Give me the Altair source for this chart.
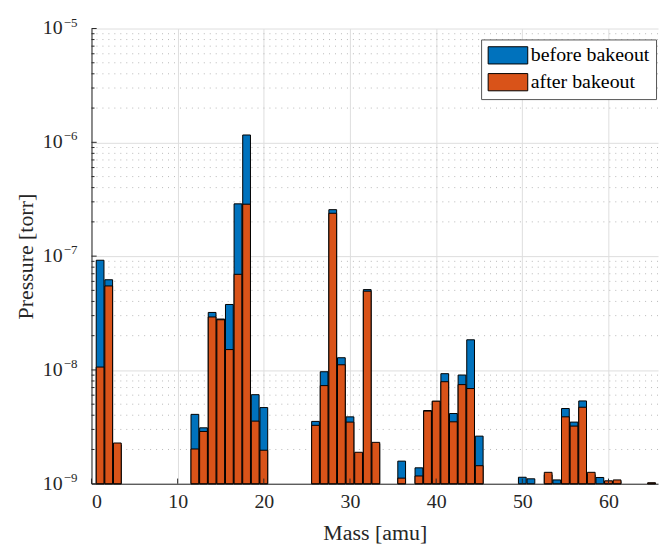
import altair as alt
import pandas as pd

# ---------------- data ----------------
masses = [1, 2, 3, 12, 13, 14, 15, 16, 17, 18, 19, 20,
          26, 27, 28, 29, 30, 31, 32, 33,
          36, 38, 39, 40, 41, 42, 43, 44, 45,
          50, 51, 53, 54, 55, 56, 57, 58, 59, 60, 61, 65]

before = [9.2e-8, 6.2e-8, 2.2e-9, 4.07e-9, 3.1e-9, 3.2e-8, 2.8e-8, 3.76e-8, 2.88e-7, 1.16e-6, 6.06e-9, 4.67e-9,
          3.53e-9, 9.64e-9, 2.56e-7, 1.28e-8, 3.87e-9, 1.85e-9, 5.08e-8, 2.25e-9,
          1.58e-9, 1.38e-9, 4.4e-9, 5.3e-9, 9.27e-9, 4.14e-9, 9.02e-9, 1.84e-8, 2.62e-9,
          1.14e-9, 1.105e-9, 1.2e-9, 1.08e-9, 4.58e-9, 3.48e-9, 5.34e-9, 1.2e-9, 1.135e-9, 1.05e-9, 1.05e-9, 1.01e-9]

after = [1.06e-8, 5.47e-8, 2.28e-9, 2.02e-9, 2.88e-9, 2.92e-8, 2.76e-8, 1.51e-8, 6.92e-8, 2.86e-7, 3.55e-9, 1.97e-9,
         3.26e-9, 7.28e-9, 2.38e-7, 1.11e-8, 3.48e-9, 1.89e-9, 4.92e-8, 2.31e-9,
         1.12e-9, 1.17e-9, 4.35e-9, 5.31e-9, 7.88e-9, 3.5e-9, 7.43e-9, 6.86e-9, 1.44e-9,
         None, None, 1.26e-9, None, 3.87e-9, 3.21e-9, 4.7e-9, 1.26e-9, None, 1.06e-9, 1.08e-9, 1.02e-9]

series_names = ["before bakeout", "after bakeout"]
series_colors = ["#0072BD", "#D95319"]

decade_exps = [-9, -8, -7, -6, -5]
x_tick_values = [0, 10, 20, 30, 40, 50, 60]
minor_multipliers = [2, 3, 4, 5, 6, 7, 8, 9]

# ---------------- tables ----------------
df_before = pd.DataFrame([{"mass": m, "p": v, "series": series_names[0]}
                          for m, v in zip(masses, before) if v is not None])
df_after = pd.DataFrame([{"mass": m, "p": v, "series": series_names[1]}
                         for m, v in zip(masses, after) if v is not None])
df_decades = pd.DataFrame({"e": decade_exps, "v": [10.0 ** e for e in decade_exps],
                           "lab": ["\u2212" + str(abs(e)) for e in decade_exps]})
df_minor = pd.DataFrame({"v": [k * 10.0 ** e for e in decade_exps[:-1] for k in minor_multipliers]})
df_xt = pd.DataFrame({"t": x_tick_values})

FONT = "Liberation Serif"
AX = "#262626"

x_scale = alt.Scale(domain=[0, 65.75], nice=False, zero=False)
y_scale = alt.Scale(type="log", domain=[1e-9, 1e-5], nice=False)

x_axis = alt.Axis(title="Mass [amu]", values=x_tick_values, format="d", grid=True, gridColor="#dedede",
                  ticks=False, domainColor=AX, labelFont=FONT, labelFontSize=20, labelColor=AX,
                  labelPadding=8, titleFont=FONT, titleFontSize=22, titleFontWeight="normal",
                  titleColor=AX, titlePadding=11)
y_axis = alt.Axis(title="Pressure [torr]", values=[10.0 ** e for e in decade_exps], grid=True,
                  gridColor="#dedede", ticks=False, labels=False, domainColor=AX, minExtent=0,
                  titleFont=FONT, titleFontSize=22, titleFontWeight="normal", titleColor=AX,
                  titlePadding=54)

legend = alt.Legend(title=None, orient="none", legendX=392, legendY=11,
                    symbolType="M-2.3,-1H2.3V1H-2.3Z", symbolSize=300, symbolOffset=11,
                    symbolStrokeColor="black", symbolStrokeWidth=1, symbolOpacity=1,
                    labelOffset=13, labelFont=FONT, labelFontSize=20, labelColor="black",
                    rowPadding=5, padding=6, strokeColor="#555555", fillColor="white")
color = alt.Color("series:N", scale=alt.Scale(domain=series_names, range=series_colors), legend=legend)

minor_grid = alt.Chart(df_minor).mark_rule(color="#b8b8b8", strokeDash=[1, 5], strokeWidth=1).encode(
    y=alt.Y("v:Q", scale=y_scale, axis=y_axis))


def bars(df):
    return alt.Chart(df).transform_calculate(
        x0="datum.mass - 0.45", x1="datum.mass + 0.45"
    ).mark_bar(stroke="black", strokeWidth=1, opacity=1).encode(
        x=alt.X("x0:Q", scale=x_scale, axis=x_axis),
        x2="x1:Q",
        y=alt.Y("p:Q", scale=y_scale, axis=y_axis),
        y2=alt.Y2Datum(1e-9),
        color=color,
    )


y_major_ticks = alt.Chart(df_decades).mark_rule(color=AX, strokeWidth=1).encode(
    y=alt.Y("v:Q", scale=y_scale, axis=y_axis),
    x=alt.XDatum(0, scale=x_scale, axis=x_axis), x2=alt.X2Datum(0.6))
y_minor_ticks = alt.Chart(df_minor).mark_rule(color=AX, strokeWidth=1).encode(
    y=alt.Y("v:Q", scale=y_scale, axis=y_axis),
    x=alt.XDatum(0, scale=x_scale, axis=x_axis), x2=alt.X2Datum(0.35))
x_major_ticks = alt.Chart(df_xt).mark_rule(color=AX, strokeWidth=1).encode(
    x=alt.X("t:Q", scale=x_scale, axis=x_axis),
    y=alt.YDatum(1e-9, scale=y_scale, axis=y_axis), y2=alt.Y2Datum(1.11e-9))

ten_labels = alt.Chart(df_decades).mark_text(font=FONT, fontSize=20, align="right", baseline="middle",
                                             color=AX).encode(
    y=alt.Y("v:Q", scale=y_scale, axis=y_axis), x=alt.value(-29), text=alt.value("10"))
exp_labels = alt.Chart(df_decades).mark_text(font=FONT, fontSize=13, align="left", baseline="middle",
                                             dy=-6, color=AX).encode(
    y=alt.Y("v:Q", scale=y_scale, axis=y_axis), x=alt.value(-28), text="lab:N")

chart = alt.layer(
    minor_grid, bars(df_before), bars(df_after), y_major_ticks, y_minor_ticks, x_major_ticks,
    ten_labels, exp_labels
).properties(
    width=570, height=458,
    autosize=alt.AutoSizeParams(type="none"),
    padding={"left": 84, "top": 19, "right": 4, "bottom": 61},
    background="white",
).configure_view(stroke=None)

chart.save("out.html", embed_options={"renderer": "svg", "actions": False})
